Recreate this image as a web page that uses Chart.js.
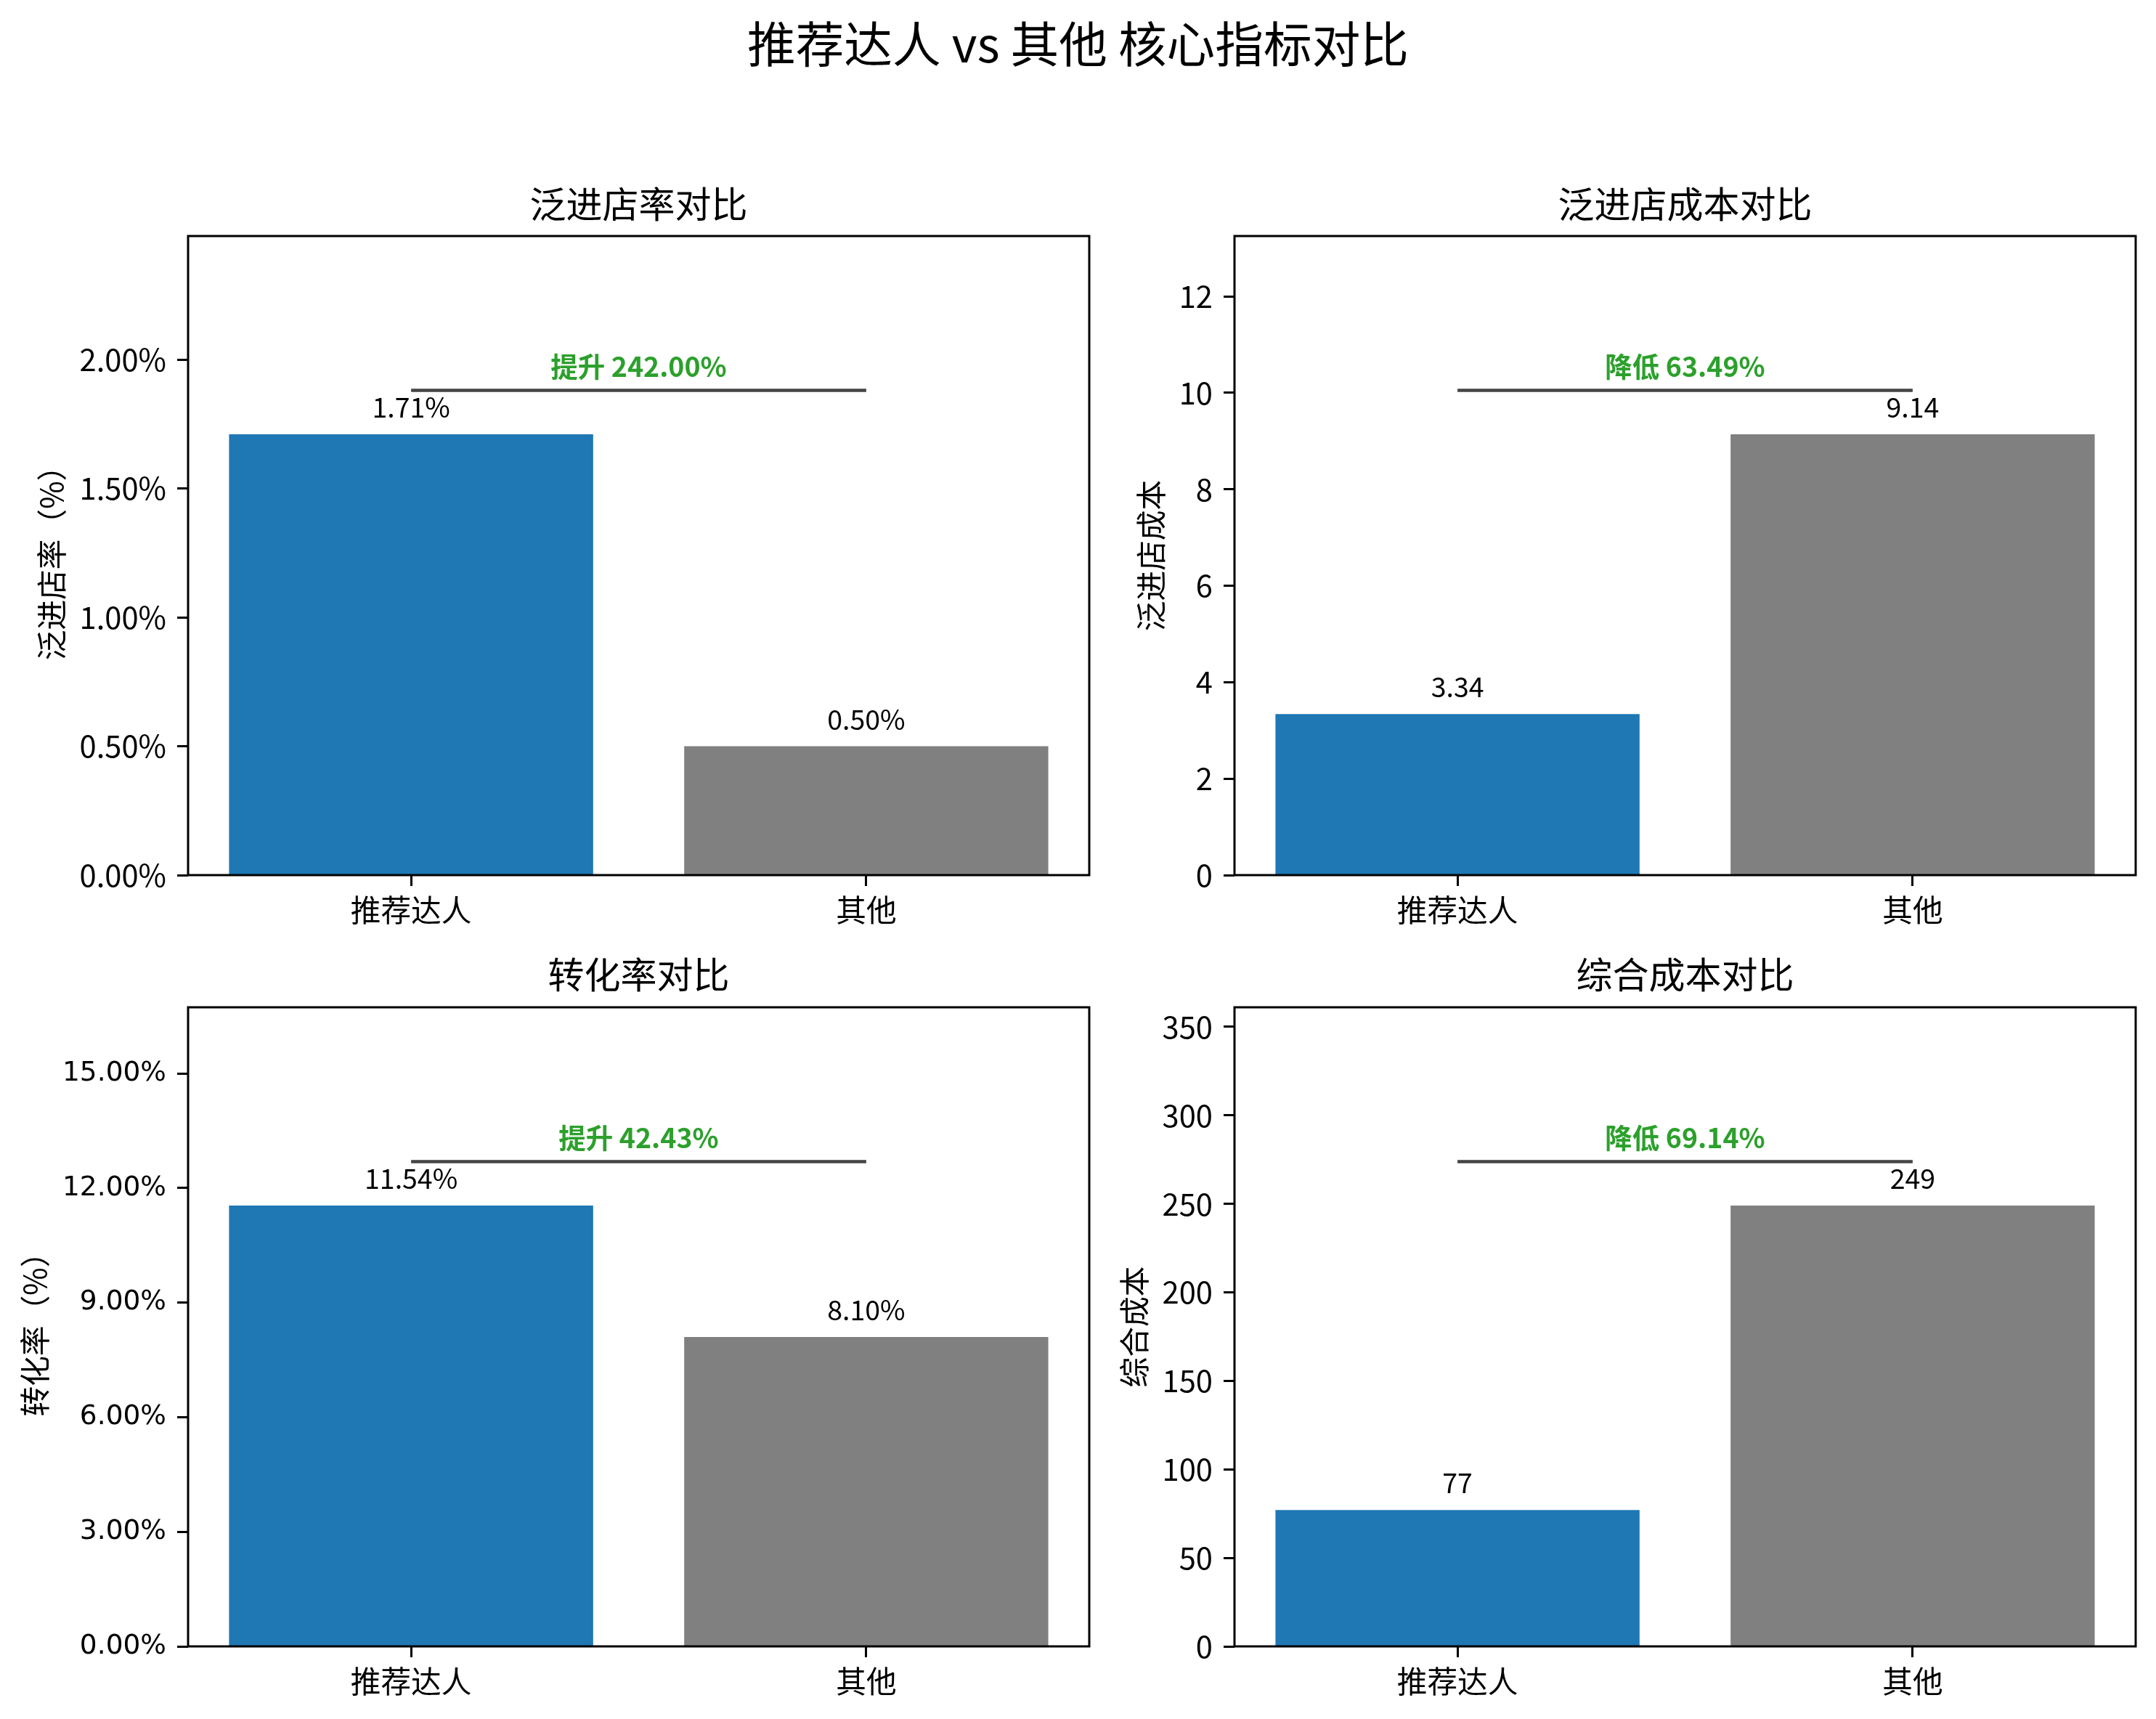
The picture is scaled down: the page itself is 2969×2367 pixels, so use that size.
<!DOCTYPE html>
<html>
<head>
<meta charset="utf-8">
<script src="https://cdn.jsdelivr.net/npm/chart.js@4.4.0/dist/chart.umd.min.js"></script>
<style>
body { margin: 0; background: #fff; width: 2969px; height: 2367px; position: relative; overflow: hidden; }
#judul { position: absolute; left: 0; top: 17px; width: 2969px; text-align: center; font-family: 'Noto Sans CJK SC'; font-size: 66.7px; line-height: 80px; color: #000; }
canvas { position: absolute; }
</style>
</head>
<body>
<div id="judul">推荐达人 vs 其他 核心指标对比</div>
<canvas id="c1" width="1520" height="1060" style="left:0px;top:240px"></canvas>
<canvas id="c2" width="1449" height="1060" style="left:1520px;top:240px"></canvas>
<canvas id="c3" width="1520" height="1067" style="left:0px;top:1300px"></canvas>
<canvas id="c4" width="1449" height="1067" style="left:1520px;top:1300px"></canvas>
<script>
// data
var categories = ['推荐达人', '其他'];
var storeRate = [1.71, 0.50];     // %
var storeCost = [3.34, 9.14];
var convRate = [11.54, 8.10];     // %
var totalCost = [77, 249];
var changeLabels = ['提升 242.00%', '降低 63.49%', '提升 42.43%', '降低 69.14%'];
var panelTitles = ['泛进店率对比', '泛进店成本对比', '转化率对比', '综合成本对比'];
var yLabels = ['泛进店率（%）', '泛进店成本', '转化率（%）', '综合成本'];
var yStepSizes = [0.5, 2, 3, 50];
var barColors = ['#1f77b4', '#808080'];

var CJK = "'Noto Sans CJK SC'";
Chart.defaults.font.family = CJK;
Chart.defaults.color = '#000';

function fmtPct(v) { return v.toFixed(2) + '%'; }
function fmt2(v) { return v.toFixed(2); }
function fmt0(v) { return v.toFixed(0); }

function makePanel(id, values, idx, fmt, lay) {
    var ymax = Math.max.apply(null, values) * 1.45;
    var ctx = document.getElementById(id).getContext('2d');

    var extras = {
        id: 'extras' + idx,
        afterDatasetsDraw: function(chart) {
            var c = chart.ctx, a = chart.chartArea;
            var xs = chart.scales.x, ys = chart.scales.y;
            c.save();
            // values above bars
            c.font = '37.5px ' + CJK;
            c.fillStyle = '#000';
            c.textAlign = 'center';
            c.textBaseline = 'alphabetic';
            for (var i = 0; i < values.length; i++) {
                c.fillText(fmt(values[i]), xs.getPixelForValue(i), ys.getPixelForValue(values[i]) - 23);
            }
            // comparison line
            var top = Math.max.apply(null, values);
            var ly = ys.getPixelForValue(top * 1.1);
            var x0 = xs.getPixelForValue(0), x1 = xs.getPixelForValue(1);
            c.strokeStyle = '#444444';
            c.lineWidth = 4.5;
            c.beginPath();
            c.moveTo(x0, ly);
            c.lineTo(x1, ly);
            c.stroke();
            c.font = 'bold 37.5px ' + CJK;
            c.fillStyle = '#2ca02c';
            c.fillText(changeLabels[idx], (x0 + x1) / 2, ly - 18);
            // frame
            c.strokeStyle = '#000';
            c.lineWidth = 3;
            c.strokeRect(a.left, a.top, a.right - a.left, a.bottom - a.top);
            c.restore();
        }
    };

    return new Chart(ctx, {
        type: 'bar',
        data: {
            datasets: [{
                data: values.map(function(v, i) { return { x: i, y: v }; }),
                backgroundColor: barColors,
                barPercentage: 0.8,
                categoryPercentage: 1
            }]
        },
        options: {
            responsive: false,
            animation: false,
            layout: { padding: { left: 0, right: lay.right, top: 0, bottom: 0 } },
            plugins: {
                legend: { display: false },
                tooltip: { enabled: false },
                title: {
                    display: true,
                    text: panelTitles[idx],
                    fullSize: false,
                    font: { size: 50, weight: 'normal', family: CJK },
                    padding: { top: lay.titleTop, bottom: lay.titleBottom }
                }
            },
            scales: {
                x: {
                    type: 'linear',
                    min: -0.49,
                    max: 1.49,
                    offset: false,
                    afterFit: function(s) { s.height = lay.xh; },
                    afterBuildTicks: function(s) { s.ticks = [{ value: 0 }, { value: 1 }]; },
                    border: { display: false },
                    grid: { offset: false, drawOnChartArea: false, drawTicks: true, tickLength: 15, tickWidth: 3, tickColor: '#000' },
                    ticks: {
                        font: { size: 41.7, family: CJK },
                        padding: 8,
                        maxRotation: 0,
                        callback: function(v) { return categories[v]; }
                    }
                },
                y: {
                    min: 0,
                    max: ymax,
                    afterFit: function(s) { s.width = lay.yw; },
                    border: { display: false },
                    grid: { drawOnChartArea: false, drawTicks: true, tickLength: 15, tickWidth: 3, tickColor: '#000' },
                    ticks: {
                        stepSize: yStepSizes[idx],
                        includeBounds: false,
                        font: { size: lay.tickSize, family: lay.tickFont },
                        padding: 15,
                        callback: function(v) { return lay.tickFmt(v); }
                    },
                    title: {
                        display: true,
                        text: yLabels[idx],
                        font: { size: 41.7, family: CJK },
                        padding: { top: lay.yTitle, bottom: 0 }
                    }
                }
            }
        },
        plugins: [extras]
    });
}

function drawAll() {
    makePanel('c1', storeRate, 0, fmtPct, { right: 20, titleTop: 11, titleBottom: 14, xh: 95, yw: 259, yTitle: 46, tickFont: CJK, tickSize: 41.7, tickFmt: fmtPct });
    makePanel('c2', storeCost, 1, fmt2, { right: 28, titleTop: 11, titleBottom: 14, xh: 95, yw: 180, yTitle: 40, tickFont: CJK, tickSize: 41.7, tickFmt: fmt0 });
    makePanel('c3', convRate, 2, fmtPct, { right: 20, titleTop: 12, titleBottom: 15, xh: 100, yw: 259, yTitle: 23, tickFont: "'DejaVu Sans'", tickSize: 37.5, tickFmt: fmtPct });
    makePanel('c4', totalCost, 3, fmt0, { right: 28, titleTop: 12, titleBottom: 15, xh: 100, yw: 180, yTitle: 17, tickFont: CJK, tickSize: 41.7, tickFmt: fmt0 });
}

Promise.all([
    document.fonts.load("42px 'Noto Sans CJK SC'"),
    document.fonts.load("bold 42px 'Noto Sans CJK SC'"),
    document.fonts.load("42px 'DejaVu Sans'")
]).then(drawAll, drawAll);
</script>
</body>
</html>
